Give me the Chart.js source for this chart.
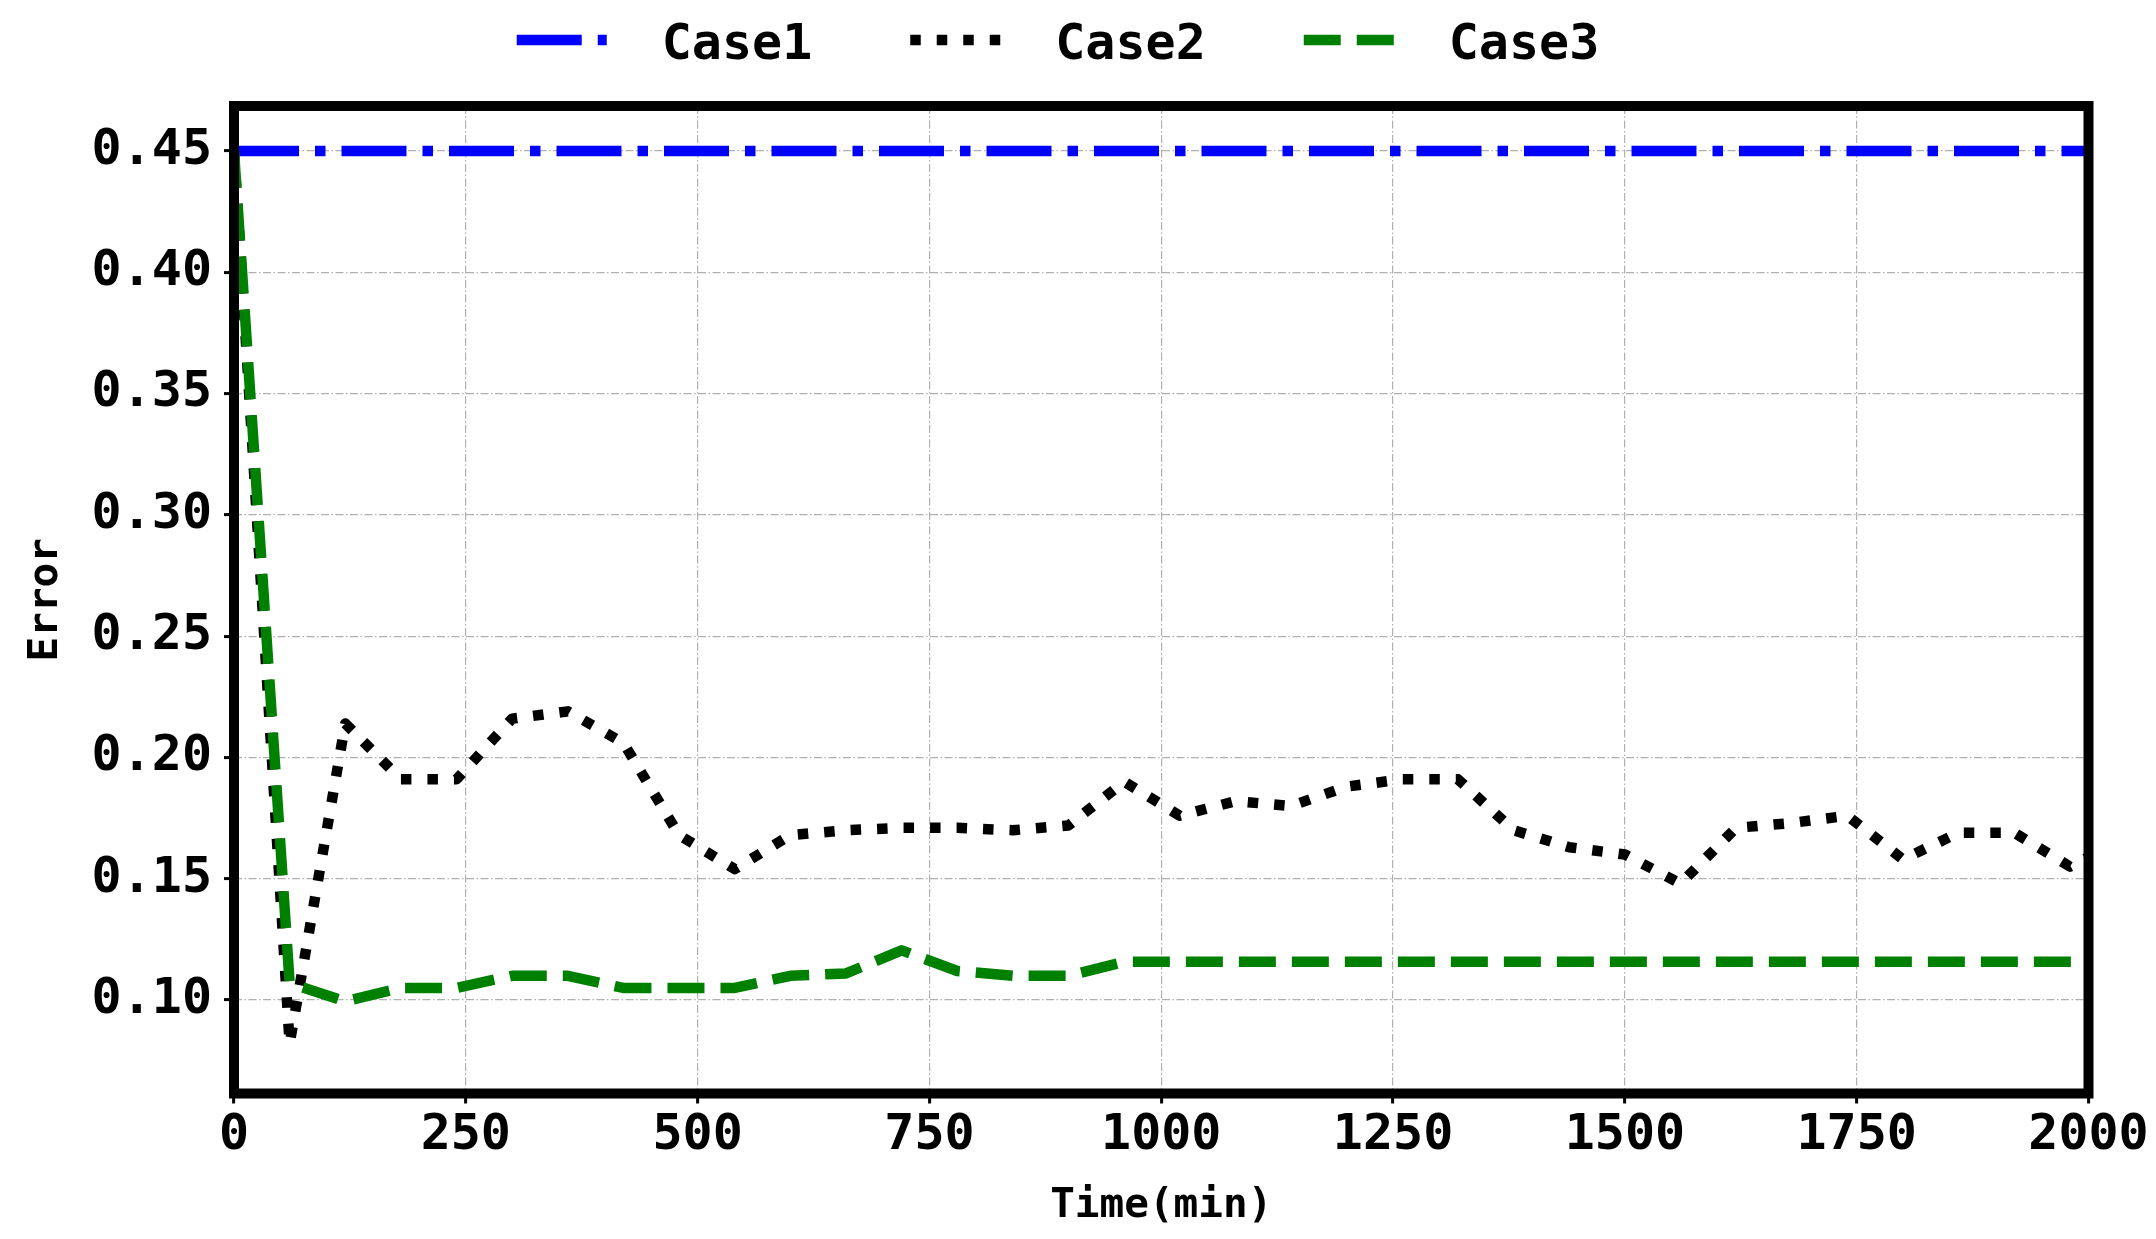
<!DOCTYPE html>
<html>
<head>
<meta charset="utf-8">
<title>Error vs time</title>
<script src="https://cdn.jsdelivr.net/npm/chart.js@4.4.1/dist/chart.umd.min.js"></script>
<style>
  html, body { margin: 0; padding: 0; background: #fff; }
</style>
</head>
<body>
<canvas id="errChart" width="2156" height="1239"></canvas>
<script>
// time axis, minutes (last point sits past the 2000 limit and gets clipped)
const times = [0, 60, 120, 180, 240, 300, 360, 420, 480, 540, 600, 660, 720, 780, 840, 900,
  960, 1020, 1080, 1140, 1200, 1260, 1320, 1380, 1440, 1500, 1560, 1620, 1680, 1740, 1800,
  1860, 1920, 1980, 2040];

const case1 = [0.45, 0.45, 0.45, 0.45, 0.45, 0.45, 0.45, 0.45, 0.45, 0.45, 0.45, 0.45, 0.45,
  0.45, 0.45, 0.45, 0.45, 0.45, 0.45, 0.45, 0.45, 0.45, 0.45, 0.45, 0.45, 0.45, 0.45, 0.45,
  0.45, 0.45, 0.45, 0.45, 0.45, 0.45, 0.45];

const case2 = [0.45, 0.082, 0.214, 0.191, 0.191, 0.216, 0.219, 0.206, 0.168, 0.154, 0.168,
  0.170, 0.171, 0.171, 0.170, 0.172, 0.190, 0.176, 0.182, 0.180, 0.188, 0.191, 0.191, 0.170,
  0.163, 0.160, 0.148, 0.171, 0.173, 0.176, 0.158, 0.169, 0.169, 0.155, 0.167];

const case3 = [0.45, 0.107, 0.0995, 0.105, 0.105, 0.110, 0.110, 0.105, 0.105, 0.105, 0.110,
  0.111, 0.1205, 0.112, 0.110, 0.110, 0.1158, 0.1158, 0.1158, 0.1158, 0.1158, 0.1158, 0.1158,
  0.1158, 0.1158, 0.1158, 0.1158, 0.1158, 0.1158, 0.1158, 0.1158, 0.1158, 0.1158, 0.1158, 0.1158];

const xTicks = [0, 250, 500, 750, 1000, 1250, 1500, 1750, 2000];
const yTicks = [0.10, 0.15, 0.20, 0.25, 0.30, 0.35, 0.40, 0.45];

const toPoints = ys => ys.map((y, i) => ({ x: times[i], y }));

const FONT = '"DejaVu Sans Mono", monospace';
const tickFont = { family: FONT, size: 50, weight: 'bold' };
const titleFont = { family: FONT, size: 41, weight: 'bold' };

// box round the plot, like the thick axes spines
const framePlugin = {
  id: 'frame',
  afterDraw(chart) {
    const { ctx, chartArea: a } = chart;
    ctx.save();
    ctx.lineWidth = 10;
    ctx.strokeStyle = '#000';
    ctx.setLineDash([]);
    ctx.strokeRect(a.left, a.top, a.right - a.left, a.bottom - a.top);
    ctx.restore();
  }
};

// single row legend above the plot
const legendPlugin = {
  id: 'topLegend',
  afterDraw(chart) {
    const ctx = chart.ctx;
    const sets = chart.data.datasets;
    ctx.save();
    ctx.font = `bold ${tickFont.size}px ${FONT}`;
    const sample = 90, textGap = 55, itemGap = 98;
    const widths = sets.map(d => sample + textGap + ctx.measureText(d.label).width);
    const total = widths.reduce((s, w) => s + w, 0) + itemGap * (sets.length - 1);
    let x = 1058 - total / 2;
    sets.forEach((d, i) => {
      ctx.beginPath();
      ctx.lineCap = 'butt';
      ctx.lineWidth = d.borderWidth;
      ctx.strokeStyle = d.borderColor;
      ctx.setLineDash(d.borderDash);
      ctx.moveTo(x, 40);
      ctx.lineTo(x + sample, 40);
      ctx.stroke();
      ctx.setLineDash([]);
      ctx.fillStyle = '#000';
      ctx.textBaseline = 'alphabetic';
      ctx.fillText(d.label, x + sample + textGap, 58.5);
      x += widths[i] + itemGap;
    });
    ctx.restore();
  }
};

new Chart(document.getElementById('errChart'), {
  type: 'line',
  data: {
    datasets: [
      {
        label: 'Case1',
        data: toPoints(case1),
        borderColor: '#0000ff',
        borderWidth: 10.5,
        borderDash: [65, 16, 10.5, 16],
        order: 3
      },
      {
        label: 'Case2',
        data: toPoints(case2),
        borderColor: '#000000',
        borderWidth: 10.5,
        borderDash: [10.5, 16],
        order: 2
      },
      {
        label: 'Case3',
        data: toPoints(case3),
        borderColor: '#008000',
        borderWidth: 10.5,
        borderDash: [37, 16],
        order: 1
      }
    ]
  },
  options: {
    responsive: false,
    animation: false,
    devicePixelRatio: 1,
    layout: { padding: { top: 106, right: 67.5, bottom: 0, left: 0 } },
    elements: {
      point: { radius: 0, hoverRadius: 0 },
      line: { tension: 0, fill: false, borderJoinStyle: 'round', borderCapStyle: 'butt' }
    },
    plugins: {
      legend: { display: false },
      tooltip: { enabled: false }
    },
    scales: {
      x: {
        type: 'linear',
        min: xTicks[0],
        max: xTicks[xTicks.length - 1],
        afterBuildTicks: s => { s.ticks = xTicks.map(v => ({ value: v })); },
        afterFit: s => { s.height = 145.5; },
        ticks: {
          font: tickFont,
          color: '#000',
          padding: 3,
          maxRotation: 0,
          autoSkip: false,
          callback: v => String(v)
        },
        grid: {
          color: '#b0b0b0',
          lineWidth: 1.2,
          tickColor: '#000',
          tickLength: 10,
          tickWidth: 3,
          tickBorderDash: []
        },
        border: { display: false, dash: [8, 2.5, 1.5, 2.5] },
        title: {
          display: true,
          text: 'Time(min)',
          color: '#000',
          font: titleFont,
          padding: { top: 0, bottom: 8 }
        }
      },
      y: {
        min: 0.0615,
        max: 0.4685,
        afterBuildTicks: s => { s.ticks = yTicks.map(v => ({ value: v })); },
        afterFit: s => { s.width = 234; },
        ticks: {
          font: tickFont,
          color: '#000',
          padding: 12,
          callback: v => v.toFixed(2)
        },
        grid: {
          color: '#b0b0b0',
          lineWidth: 1.2,
          tickColor: '#000',
          tickLength: 10,
          tickWidth: 3,
          tickBorderDash: []
        },
        border: { display: false, dash: [8, 2.5, 1.5, 2.5] },
        title: {
          display: true,
          text: 'Error',
          color: '#000',
          font: titleFont,
          padding: { top: 22, bottom: 0 }
        }
      }
    }
  },
  plugins: [framePlugin, legendPlugin]
});
</script>
</body>
</html>
